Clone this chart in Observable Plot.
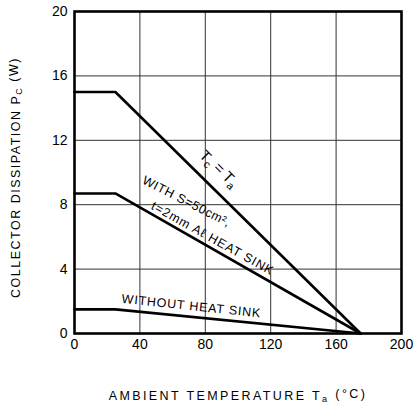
<!DOCTYPE html>
<html>
<head>
<meta charset="utf-8">
<script src="https://cdn.jsdelivr.net/npm/d3@7"></script>
<script src="https://cdn.jsdelivr.net/npm/@observablehq/plot@0.6"></script>
<style>
  html, body { margin: 0; padding: 0; background: #fff; }
  svg { display: block; }
</style>
</head>
<body>
<div id="chart"></div>
<script>
// Data
const temps = [0, 25, 175];          // ambient temperature Ta (°C)
const tcEqualsTa = [15, 15, 0];      // Tc = Ta (infinite heat sink)
const withHeatSink = [8.7, 8.7, 0];  // with S=50cm², t=2mm Al heat sink
const withoutHeatSink = [1.5, 1.5, 0];
const xTicks = [0, 40, 80, 120, 160, 200];
const yTicks = [0, 4, 8, 12, 16, 20];
const xGrid = [40, 80, 120, 160];
const yGrid = [4, 8, 12, 16];

const series = [
  {name: "Tc=Ta", values: tcEqualsTa},
  {name: "with", values: withHeatSink},
  {name: "without", values: withoutHeatSink}
];
const rows = series.flatMap(s => s.values.map((v, i) => ({series: s.name, t: temps[i], p: v})));

const annotations = [
  {t: 88, p: 10.2, text: "Tc = Ta", rotate: 45, size: 15},
  {t: 68.5, p: 8.2, text: "WITH S=50cm²,", rotate: 27, size: 12.5},
  {t: 84.5, p: 5.9, text: "t=2mm Aℓ HEAT SINK", rotate: 29, size: 12.5},
  {t: 71.5, p: 1.7, text: "WITHOUT HEAT SINK", rotate: 6, size: 12.5}
];

const font = "Liberation Sans, Arial, Helvetica, sans-serif";

const chart = Plot.plot({
  width: 415,
  height: 407,
  marginLeft: 74,
  marginRight: 14,
  marginTop: 11,
  marginBottom: 74,
  style: {fontFamily: font, color: "#000", background: "#fff"},
  x: {domain: [0, 200]},
  y: {domain: [0, 20]},
  marks: [
    Plot.gridX(xGrid, {stroke: "#333", strokeOpacity: 1, strokeWidth: 1}),
    Plot.gridY(yGrid, {stroke: "#333", strokeOpacity: 1, strokeWidth: 1}),
    Plot.line(rows, {x: "t", y: "p", z: "series", stroke: "#000", strokeWidth: 2.6, strokeLinejoin: "miter"}),
    Plot.frame({stroke: "#000", strokeWidth: 2.6}),
    Plot.axisX(xTicks, {tickSize: 0, tickPadding: 6, fontSize: 14, label: null}),
    Plot.axisY(yTicks, {tickSize: 0, tickPadding: 7, fontSize: 14, label: null}),
    Plot.text(annotations, {x: "t", y: "p", text: "text", rotate: "rotate", fontSize: "size", fill: "#000", textAnchor: "middle", lineAnchor: "middle", className: "annot"}),
    Plot.text(["COLLECTOR DISSIPATION Pc (W)"], {frameAnchor: "left", dx: -59, dy: 5, rotate: -90, fontSize: 12.5, fill: "#000", textAnchor: "middle", lineAnchor: "middle"}),
    Plot.text(["AMBIENT TEMPERATURE Ta (°C)"], {frameAnchor: "bottom", dy: 62, fontSize: 12.5, fill: "#000", textAnchor: "middle", lineAnchor: "middle"})
  ]
});

// Subscripts and letter spacing as real text
const subs = {
  "Tc = Ta": [["T"], ["c", true], [" = T"], ["a", true]],
  "COLLECTOR DISSIPATION Pc (W)": [["COLLECTOR DISSIPATION P"], ["C", true], [" (W)"]],
  "AMBIENT TEMPERATURE Ta (°C)": [["AMBIENT TEMPERATURE T"], ["a", true], [" (°C)"]]
};
const spacing = {
  "Tc = Ta": 0,
  "COLLECTOR DISSIPATION Pc (W)": 1.5,
  "AMBIENT TEMPERATURE Ta (°C)": 2.4,
  "WITH S=50cm²,": 0.6,
  "t=2mm Aℓ HEAT SINK": 0.9,
  "WITHOUT HEAT SINK": 0.8
};
d3.select(chart).selectAll("text").each(function() {
  const el = d3.select(this);
  const txt = this.textContent;
  if (spacing[txt] !== undefined) el.attr("letter-spacing", spacing[txt]);
  if (subs[txt]) {
    el.text(null);
    let prevSub = false;
    for (const [s, sub] of subs[txt]) {
      const ts = el.append("tspan").text(s);
      if (sub && !prevSub) ts.attr("dy", "0.3em").attr("font-size", "0.72em");
      else if (!sub && prevSub) ts.attr("dy", "-0.3em");
      prevSub = !!sub;
    }
  }
});

document.getElementById("chart").appendChild(chart);
</script>
</body>
</html>
